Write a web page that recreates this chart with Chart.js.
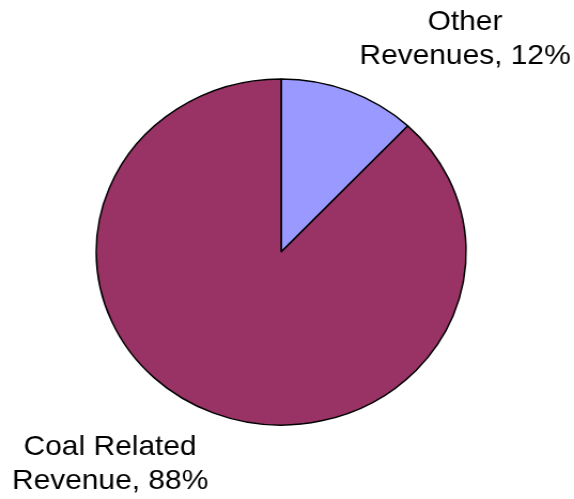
<!DOCTYPE html>
<html>
<head>
<meta charset="utf-8">
<script src="https://cdn.jsdelivr.net/npm/chart.js@4/dist/chart.umd.min.js"></script>
<style>
  html, body { margin: 0; padding: 0; background: #ffffff; overflow: hidden; }
  #wrap { width: 574px; height: 499px; position: relative; }
  /* chart is drawn narrower and stretched out to the full width */
  #revenue-chart { position: absolute; left: 0; top: 0; transform: scaleX(1.069); transform-origin: 0 0; }
</style>
</head>
<body>
<div id="wrap">
  <canvas id="revenue-chart" width="537" height="499"></canvas>
</div>
<script>
// Revenue mix
const sliceLabels = [['Other', 'Revenues, 12%'], ['Coal Related', 'Revenue, 88%']];
const sliceValues = [12, 88];
const sliceColors = ['#9999ff', '#993366'];

// Draws the two-line labels beside each slice
const sliceLabelPlugin = {
    id: 'sliceLabels',
    afterDraw(chart, args, opts) {
        const ctx = chart.ctx;
        const arcs = chart.getDatasetMeta(0).data;
        ctx.save();
        ctx.fillStyle = '#000000';
        ctx.font = opts.font;
        ctx.textAlign = 'center';
        ctx.textBaseline = 'alphabetic';
        arcs.forEach((arc, i) => {
            const off = opts.offsets[i];
            const x = arc.x + off.x;
            let y = arc.y + off.y;
            sliceLabels[i].forEach(line => {
                ctx.fillText(line, x, y);
                y += opts.lineHeight;
            });
        });
        ctx.restore();
    }
};

const ctx = document.getElementById('revenue-chart');
const revenueChart = new Chart(ctx, {
    type: 'pie',
    data: {
        labels: sliceLabels.map(l => l.join(' ')),
        datasets: [{
            data: sliceValues,
            backgroundColor: sliceColors,
            borderColor: '#000000',
            borderWidth: 1.5
        }]
    },
    options: {
        responsive: false,
        animation: false,
        radius: 173,
        layout: {
            padding: { top: 5, right: 11, bottom: 0, left: 0 }
        },
        plugins: {
            legend: { display: false },
            tooltip: { enabled: false },
            sliceLabels: {
                font: '28px "Liberation Sans", Arial, sans-serif',
                lineHeight: 34,
                offsets: [{ x: 172, y: -222 }, { x: -160, y: 203 }]
            }
        }
    },
    plugins: [sliceLabelPlugin]
});
</script>
</body>
</html>
